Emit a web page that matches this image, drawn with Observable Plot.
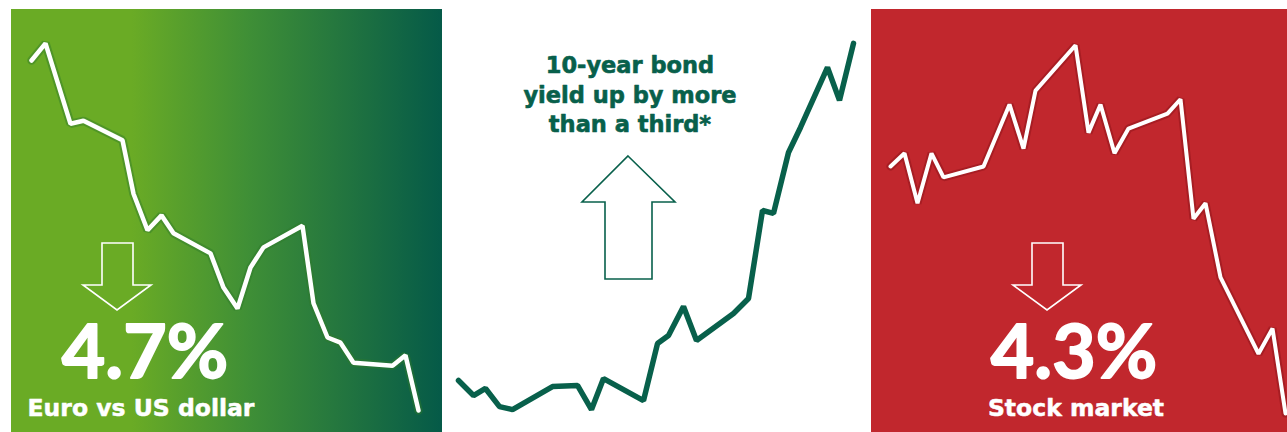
<!DOCTYPE html>
<html><head><meta charset="utf-8">
<script src="https://cdn.jsdelivr.net/npm/d3@7"></script>
<script src="https://cdn.jsdelivr.net/npm/@observablehq/plot@0.6"></script>
<style>
html,body{margin:0;padding:0;background:#fff;}
#wrap{position:relative;width:1287px;height:432px;overflow:hidden;}
.panel{position:absolute;top:9px;height:423px;}
#p1{left:11px;width:431px;background:linear-gradient(to right,#6aab25 0%,#6aab25 28%,#3f8f36 55%,#055a48 100%);}
#p2{left:442px;width:429px;}
#p3{left:871px;width:416px;background:#c1272d;}
.panel svg{position:absolute;left:0;top:0;background:transparent;overflow:visible;}
#overlay{position:absolute;left:0;top:0;pointer-events:none;}
</style>
</head><body>
<div id="wrap">
  <div class="panel" id="p1"></div>
  <div class="panel" id="p2"></div>
  <div class="panel" id="p3"></div>
</div>
<script>
// Trading days since the start of the period, and index values (start = 100)
const euroDays   = [0, 1.4, 3.9, 5.2, 9.1, 10.2, 11.6, 13.0, 14.2, 17.9, 19.2, 20.6, 21.9, 23.2, 27.1, 28.2, 29.6, 30.9, 32.2, 36.1, 37.4, 38.7];
const euroValues = [100, 100.23, 99.15, 99.19, 98.93, 98.21, 97.72, 97.92, 97.68, 97.41, 96.95, 96.67, 97.22, 97.49, 97.78, 96.74, 96.28, 96.21, 95.94, 95.90, 96.04, 95.30];

const bondDays   = [0, 1.5, 2.7, 4.1, 5.4, 9.4, 11.9, 13.3, 14.5, 18.5, 19.9, 21.0, 22.5, 23.8, 27.5, 29.0, 30.4, 31.5, 33.0, 34.2, 36.9, 38.1, 39.5];
const bondValues = [100, 98.40, 99.15, 97.22, 96.90, 99.36, 99.47, 96.90, 100.21, 97.86, 103.95, 104.81, 107.90, 104.27, 107.16, 108.76, 118.16, 117.84, 124.35, 127.02, 133.43, 129.91, 136.0];

const stockDays   = [0, 1.4, 2.7, 4.1, 5.3, 9.3, 11.9, 13.3, 14.5, 18.5, 19.8, 21.0, 22.4, 23.8, 27.7, 29.0, 30.3, 31.5, 33.0, 36.8, 38.2, 39.5];
const stockValues = [100, 100.23, 99.36, 100.23, 99.81, 100, 101.08, 100.31, 101.32, 102.11, 100.59, 101.08, 100.23, 100.66, 100.92, 101.17, 99.09, 99.36, 98.07, 96.74, 97.18, 95.70];

const euroLabel  = ["4.7%", "Euro vs US dollar"];
const bondLabel  = ["10-year bond", "yield up by more", "than a third*"];
const stockLabel = ["4.3%", "Stock market"];

const toRows = (days, vals) => days.map((d, i) => ({day: d, value: vals[i]}));
const euro = toRows(euroDays, euroValues);
const bond = toRows(bondDays, bondValues);
const stock = toRows(stockDays, stockValues);

function panelPlot(width, xDomain, yDomain, marks) {
  return Plot.plot({
    width, height: 423,
    margin: 0,
    x: {domain: xDomain, axis: null},
    y: {domain: yDomain, axis: null},
    style: {background: "transparent", overflow: "visible"},
    marks
  });
}

const lineOpts = {x: "day", y: "value", strokeLinejoin: "miter", strokeLinecap: "round", curve: "linear"};

document.getElementById("p1").append(panelPlot(431, [-2.0, 41.1], [95.004, 100.685], [
  Plot.line(euro, {...lineOpts, stroke: "#2f7a2a", strokeOpacity: 0.45, strokeWidth: 8.5}),
  Plot.line(euro, {...lineOpts, stroke: "#ffffff", strokeWidth: 4.5})
]));
document.getElementById("p2").append(panelPlot(429, [-1.6, 41.3], [94.45, 139.62], [
  Plot.line(bond, {...lineOpts, stroke: "#08604b", strokeWidth: 5.5})
]));
document.getElementById("p3").append(panelPlot(416, [-1.9, 39.7], [95.369, 102.733], [
  Plot.line(stock, {...lineOpts, stroke: "#8e1419", strokeOpacity: 0.5, strokeWidth: 8}),
  Plot.line(stock, {...lineOpts, stroke: "#ffffff", strokeWidth: 4})
]));

// Annotations: arrows and headline text
const svg = d3.select("#wrap").append("svg").attr("id", "overlay").attr("width", 1287).attr("height", 432);
const bigFont = "Lato, 'Open Sans', sans-serif";
const smallFont = "'DejaVu Sans', Lato, sans-serif";

function downArrow(cx, top, color) {
  const pts = [[cx-15,top],[cx+16,top],[cx+16,top+42],[cx+34,top+42],[cx,top+67],[cx-34,top+42],[cx-15,top+42]];
  svg.append("polygon").attr("points", pts.map(p => p.join(",")).join(" "))
    .attr("fill", "none").attr("stroke", color).attr("stroke-width", 1.6);
}
function upArrow(cx, top, color) {
  const pts = [[cx,top],[cx+47,top+46],[cx+24,top+46],[cx+24,top+123],[cx-23,top+123],[cx-23,top+46],[cx-46,top+46]];
  svg.append("polygon").attr("points", pts.map(p => p.join(",")).join(" "))
    .attr("fill", "none").attr("stroke", color).attr("stroke-width", 1.6);
}
downArrow(117, 243, "#ffffff");
downArrow(1047, 243, "#ffffff");
upArrow(628, 156, "#08604b");

function txt(x, y, s, size, color, family, stroke) {
  const t = svg.append("text").attr("x", x).attr("y", y).attr("text-anchor", "middle")
    .attr("font-family", family).attr("font-weight", 700).attr("font-size", size)
    .attr("fill", color).text(s);
  if (stroke) t.attr("stroke", color).attr("stroke-width", stroke).attr("stroke-linejoin", "round");
}
txt(145, 378, euroLabel[0], 75, "#fff", bigFont, 1.8);
txt(141, 416, euroLabel[1], 23.5, "#fff", smallFont, 0.5);
txt(1074, 378, stockLabel[0], 75, "#fff", bigFont, 1.8);
txt(1076, 416, stockLabel[1], 23.5, "#fff", smallFont, 0.5);
txt(630, 73, bondLabel[0], 22.5, "#08604b", smallFont, 0.6);
txt(630, 103, bondLabel[1], 22.5, "#08604b", smallFont, 0.6);
txt(630, 132, bondLabel[2], 22.5, "#08604b", smallFont, 0.6);
</script>
</body></html>
